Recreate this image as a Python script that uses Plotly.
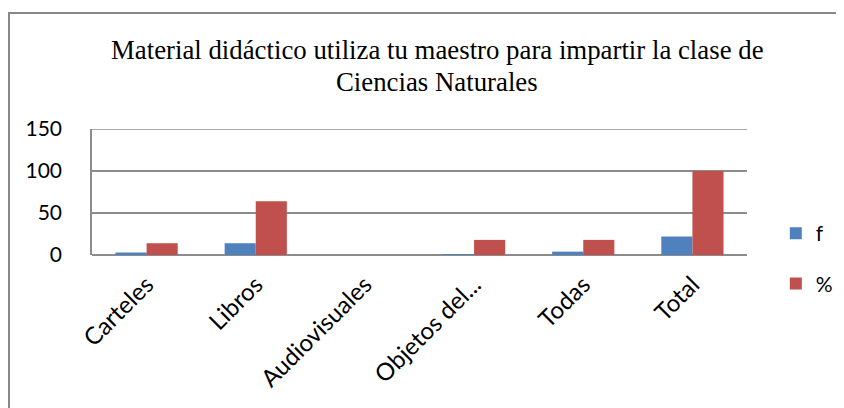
import plotly.graph_objects as go

categories = ["Carteles", "Libros", "Audiovisuales", "Objetos del...", "Todas", "Total"]
f_values = [3, 14, 0, 1, 4, 22]
pct_values = [14, 64, 0, 18, 18, 100]
y_ticks = [0, 50, 100, 150]

title_line1 = "Material didáctico utiliza tu maestro para impartir la clase de"
title_line2 = "Ciencias Naturales"

# page body adds an 8px offset; plot area in reference pixels: x 92-747, y 129-255
W, H = 844, 408
OFF = 8
L, T = 92 - OFF, 129 - OFF
R, B = W - (747 - OFF), H - (255 - OFF)
PW, PH = 747 - 92, 255 - 129

fig = go.Figure()
fig.add_trace(go.Bar(x=categories, y=f_values, name="f", marker_color="#4F81BD",
                     marker_line_width=0, legendgroup="a"))
fig.add_trace(go.Bar(x=categories, y=pct_values, name="%", marker_color="#C0504D",
                     marker_line_width=0, legendgroup="b"))

grid = "#8c8c8c"
fig.update_layout(
    width=W, height=H,
    margin=dict(l=L, r=R, t=T, b=B, autoexpand=False),
    paper_bgcolor="white", plot_bgcolor="white",
    barmode="group", bargap=0.43, bargroupgap=0,
    font=dict(family="Lato", size=20, color="black"),
    showlegend=True,
    legend=dict(x=1.044, xanchor="left", y=0.333, yanchor="top",
                tracegroupgap=20, font=dict(size=21), bgcolor="rgba(0,0,0,0)",
                itemwidth=30),
    xaxis=dict(type="category", tickangle=-45, showgrid=False, showline=False,
               ticks="", tickfont=dict(size=24), ticklabelstandoff=10),
    yaxis=dict(range=[0, 150], tickvals=y_ticks, showgrid=True, gridcolor=grid,
               gridwidth=1.5, zeroline=True, zerolinecolor=grid, zerolinewidth=1.5,
               showline=True, linecolor=grid, linewidth=1.5, ticks="",
               ticklabelstandoff=24, tickfont=dict(size=21)),
)

# top gridline at the range edge
fig.add_shape(type="line", xref="paper", yref="y", x0=0, x1=1, y0=y_ticks[-1], y1=y_ticks[-1],
              line=dict(color=grid, width=1.5))

tx = (437 - 92) / PW
fig.add_annotation(text=title_line1, xref="paper", yref="paper",
                   x=tx, y=(255 - 50) / PH, xanchor="center",
                   yanchor="middle", showarrow=False,
                   font=dict(family="Liberation Serif", size=26.8, color="black"))
fig.add_annotation(text=title_line2, xref="paper", yref="paper",
                   x=tx, y=(255 - 82) / PH, xanchor="center",
                   yanchor="middle", showarrow=False,
                   font=dict(family="Liberation Serif", size=26.8, color="black"))

# outer chart border (extends past right/bottom edges as in the reference)
fig.add_shape(type="rect", xref="paper", yref="paper",
              x0=(9 - 92) / PW, x1=2.0, y0=-3.0, y1=(255 - 13) / PH,
              line=dict(color="#888888", width=2), fillcolor="rgba(0,0,0,0)", layer="below")

fig.write_html("out.html")
